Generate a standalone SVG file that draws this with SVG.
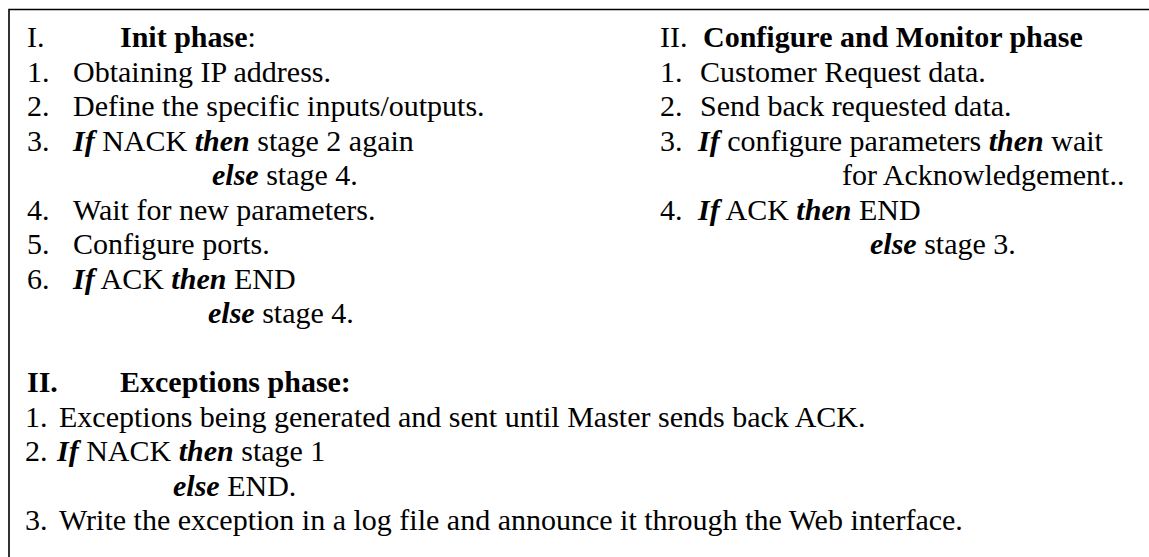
<svg xmlns="http://www.w3.org/2000/svg" width="1149" height="557" viewBox="0 0 1149 557">
  <style>
    text { font-family: "Liberation Serif", "Times New Roman", serif; font-size: 30px; fill: #000; }
    .b { font-weight: bold; }
    .bi { font-weight: bold; font-style: italic; }
    .frame { fill: none; stroke: #000; stroke-width: 1.6; }
  </style>
  <rect width="1149" height="557" fill="#fff"/>

  <!-- open frame: top and left edges only -->
  <path class="frame" d="M9,557 V9.5 H1149"/>

  <!-- I. Init phase -->
  <g id="init-phase">
    <text x="27" y="47">I.</text>
    <text x="120" y="47"><tspan class="b">Init phase</tspan>:</text>
    <text x="27" y="81.5">1.</text>
    <text x="73" y="81.5">Obtaining IP address.</text>
    <text x="27" y="116">2.</text>
    <text x="73" y="116">Define the specific inputs/outputs.</text>
    <text x="27" y="150.5">3.</text>
    <text x="73" y="150.5"><tspan class="bi">If</tspan> NACK <tspan class="bi">then</tspan> stage 2 again</text>
    <text x="212" y="185"><tspan class="bi">else</tspan> stage 4.</text>
    <text x="27" y="219.5">4.</text>
    <text x="73" y="219.5">Wait for new parameters.</text>
    <text x="27" y="254">5.</text>
    <text x="73" y="254">Configure ports.</text>
    <text x="27" y="288.5">6.</text>
    <text x="73" y="288.5"><tspan class="bi">If</tspan> ACK <tspan class="bi">then</tspan> END</text>
    <text x="208" y="323"><tspan class="bi">else</tspan> stage 4.</text>
  </g>

  <!-- II. Configure and Monitor phase -->
  <g id="configure-phase">
    <text x="660" y="47">II.</text>
    <text x="703" y="47" class="b">Configure and Monitor phase</text>
    <text x="660" y="81.5">1.</text>
    <text x="700" y="81.5">Customer Request data.</text>
    <text x="660" y="116">2.</text>
    <text x="700" y="116">Send back requested data.</text>
    <text x="660" y="150.5">3.</text>
    <text x="698" y="150.5"><tspan class="bi">If</tspan> configure parameters <tspan class="bi">then</tspan> wait</text>
    <text x="842" y="185">for Acknowledgement..</text>
    <text x="660" y="219.5">4.</text>
    <text x="698" y="219.5"><tspan class="bi">If</tspan> ACK <tspan class="bi">then</tspan> END</text>
    <text x="870" y="254"><tspan class="bi">else</tspan> stage 3.</text>
  </g>

  <!-- II. Exceptions phase -->
  <g id="exceptions-phase">
    <text x="27" y="392" class="b">II.</text>
    <text x="120" y="392" class="b">Exceptions phase:</text>
    <text x="25" y="426.5">1.</text>
    <text x="59" y="426.5">Exceptions being generated and sent until Master sends back ACK.</text>
    <text x="25" y="461">2.</text>
    <text x="57" y="461"><tspan class="bi">If</tspan> NACK <tspan class="bi">then</tspan> stage 1</text>
    <text x="173" y="495.5"><tspan class="bi">else</tspan> END.</text>
    <text x="25" y="530">3.</text>
    <text x="59" y="530">Write the exception in a log file and announce it through the Web interface.</text>
  </g>
</svg>
